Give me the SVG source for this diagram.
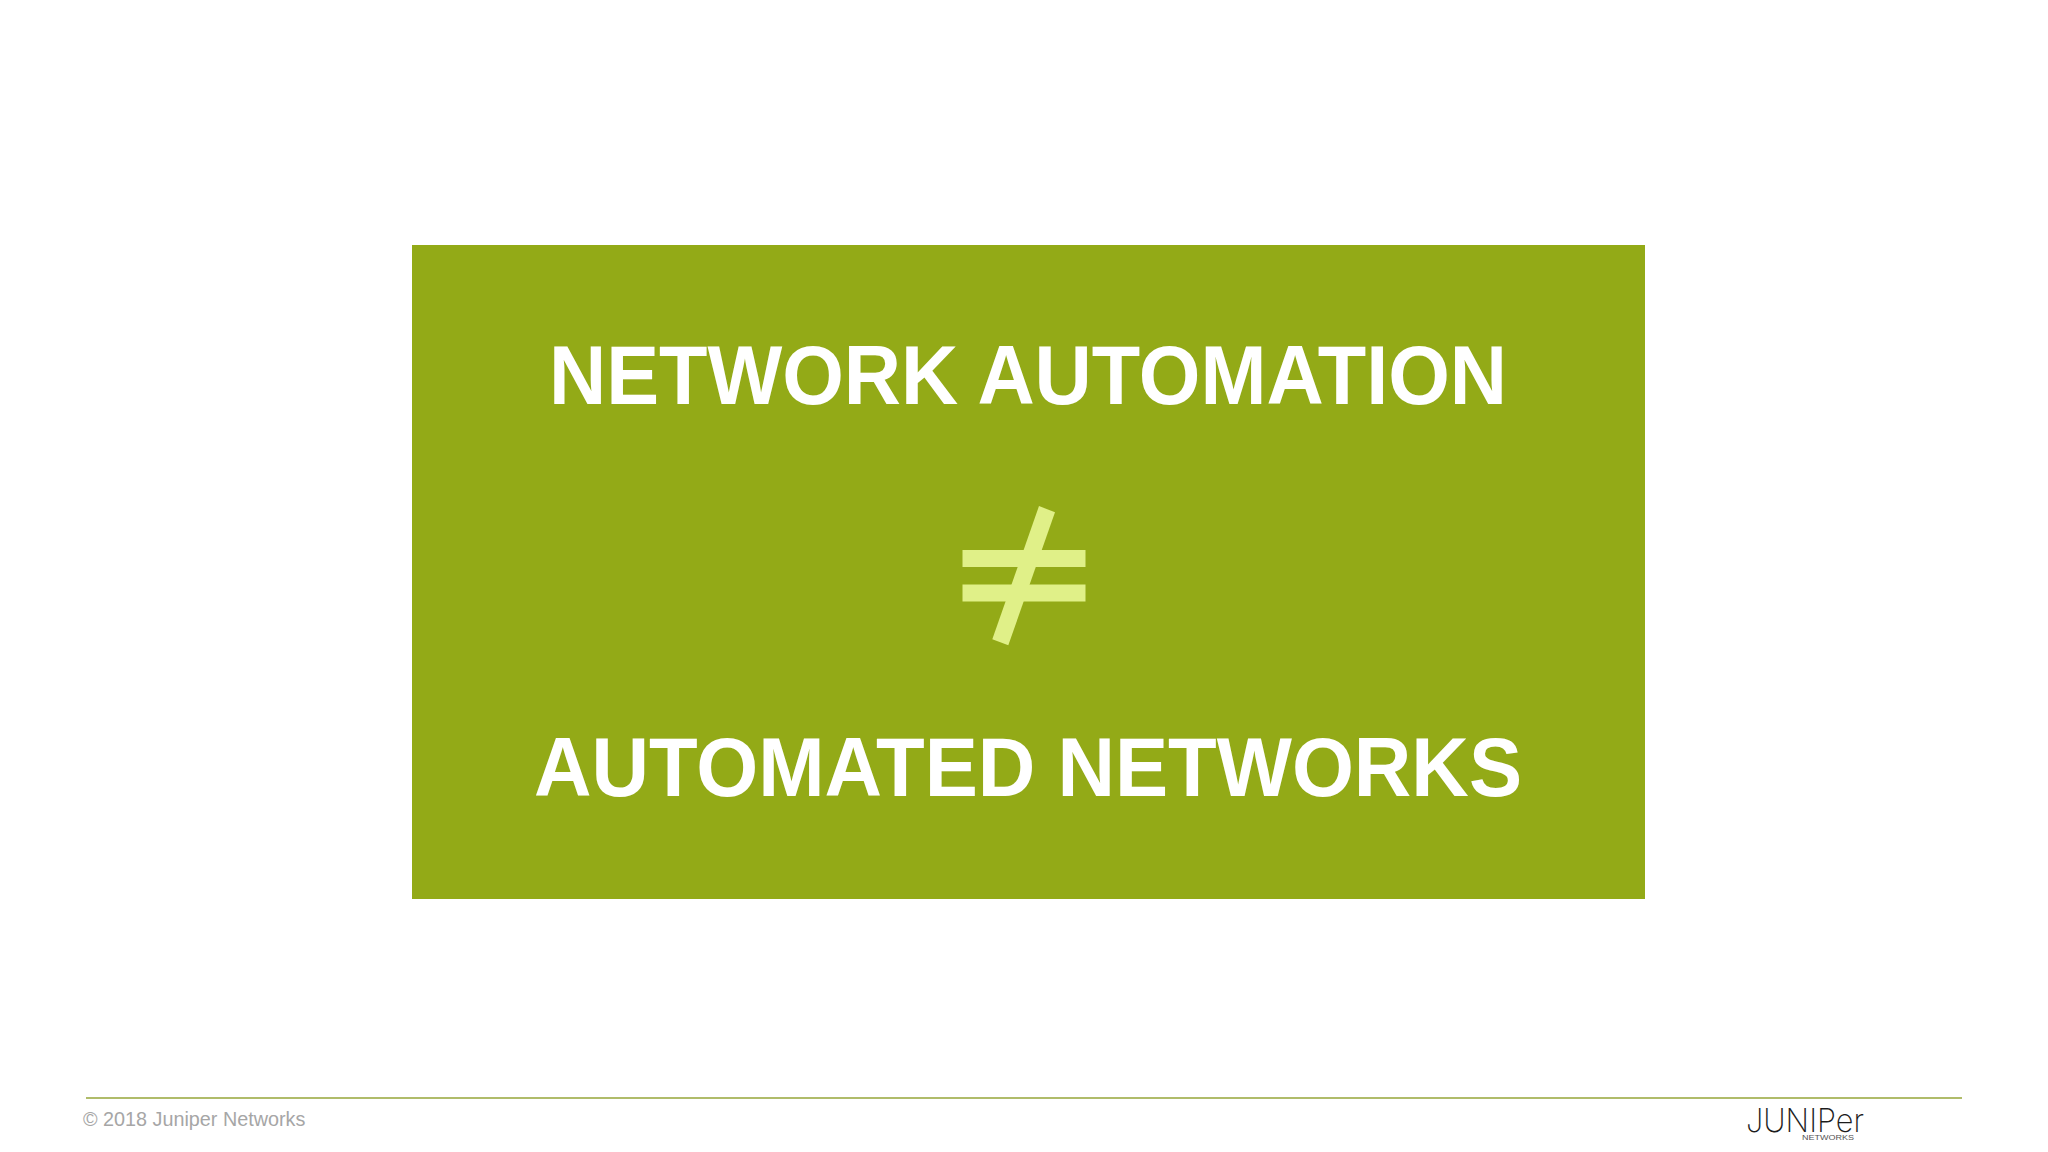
<svg xmlns="http://www.w3.org/2000/svg" width="2048" height="1152" viewBox="0 0 2048 1152">
<style>
.h{font-family:"Liberation Sans",Arial,sans-serif;font-weight:700;font-size:83.500px;fill:#fff;text-anchor:middle}
.n{fill:#e0f088}
</style>
<rect width="2048" height="1152" fill="#fff"/>
<g id="panel">
<rect x="412" y="245" width="1233" height="654" fill="#93aa17"/>
<text class="h" x="1028" y="403.500" textLength="958" lengthAdjust="spacingAndGlyphs">NETWORK AUTOMATION</text>
<text class="h" x="1028" y="796" textLength="988" lengthAdjust="spacingAndGlyphs">AUTOMATED NETWORKS</text>
</g>
<g id="not-equal">
<rect class="n" x="962.500" y="550" width="123" height="17"/>
<rect class="n" x="962.500" y="584.500" width="123" height="17"/>
<polygon class="n" points="1039,506 1055,512.300 1008.300,645.300 992.300,639.300"/>
</g>
<g id="footer">
<rect x="86" y="1097" width="1876" height="2" fill="#b0bc6a"/>
<text x="83" y="1126" font-family="Liberation Sans,Arial,sans-serif" font-size="19.800" fill="#a6a6a6">© 2018 Juniper Networks</text>
</g>
<g id="logo" fill="#1c1c1c">
<text x="1746" y="1132" font-family="Inter,Lato,sans-serif" font-weight="200" font-size="33" textLength="118" lengthAdjust="spacingAndGlyphs">JUNIPer</text>
<text x="1802" y="1139.500" font-family="Liberation Sans,Arial,sans-serif" font-size="8" fill="#555" textLength="52" lengthAdjust="spacingAndGlyphs">NETWORKS</text>
</g>
</svg>
